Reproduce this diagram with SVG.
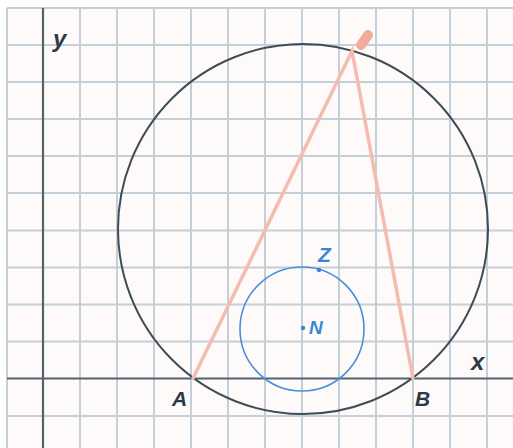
<svg xmlns="http://www.w3.org/2000/svg" width="513" height="448" viewBox="0 0 513 448">
<style>
.grid{stroke:#c3d0da;stroke-width:2;fill:none}
.axis{stroke:#52636e;stroke-width:2.2;fill:none}
.lbl{font-family:"Liberation Sans",Arial,sans-serif;font-style:italic;font-weight:bold;fill:#2b3a44}
.blbl{font-family:"Liberation Sans",Arial,sans-serif;font-style:italic;font-weight:bold;fill:#3a86d6}
.red{stroke:#f4bcae;stroke-width:3.5;fill:none;stroke-linecap:round}
</style>
<rect x="0" y="0" width="513" height="448" fill="#ffffff"/>
<rect x="7" y="8" width="506" height="440" fill="#fefafa"/>
<g id="grid" class="grid">
<path d="M7 8H513M7 45H513M7 82H513M7 119H513M7 156H513M7 193H513M7 230.5H513M7 267.5H513M7 304.5H513M7 341.5H513M7 416H513"/>
<path d="M7 8V448M80 8V448M117 8V448M154 8V448M191 8V448M228 8V448M265 8V448M302 8V448M339 8V448M376 8V448M413 8V448M450 8V448M487 8V448"/>
</g>
<g id="axes" class="axis">
<path d="M7 378.5H513"/>
<path d="M43 8V448"/>
</g>
<g id="big-circle">
<circle cx="303" cy="229" r="185" fill="none" stroke="#3f4c55" stroke-width="2"/>
</g>
<g id="connectors">
<path class="red" d="M193 378.5L352 51L413 378.5"/>
<path d="M361 45L368 35" stroke="#f2ab98" stroke-width="10" stroke-linecap="round" fill="none"/>
</g>
<g id="small-circle">
<circle cx="302" cy="329" r="62" fill="none" stroke="#4a8fd8" stroke-width="1.6"/>
</g>
<g id="Z">
<circle cx="319" cy="270" r="2.2" fill="#3a86d6"/>
<text class="blbl" x="318" y="262" font-size="21">Z</text>
</g>
<g id="N">
<circle cx="303" cy="328" r="2.2" fill="#3a86d6"/>
<text class="blbl" x="309" y="334" font-size="19">N</text>
</g>
<g id="labels">
<text class="lbl" x="53" y="47" font-size="24">y</text>
<text class="lbl" x="471" y="370" font-size="24">x</text>
<text class="lbl" x="172" y="406" font-size="21">A</text>
<text class="lbl" x="415" y="406" font-size="21">B</text>
</g>
</svg>
